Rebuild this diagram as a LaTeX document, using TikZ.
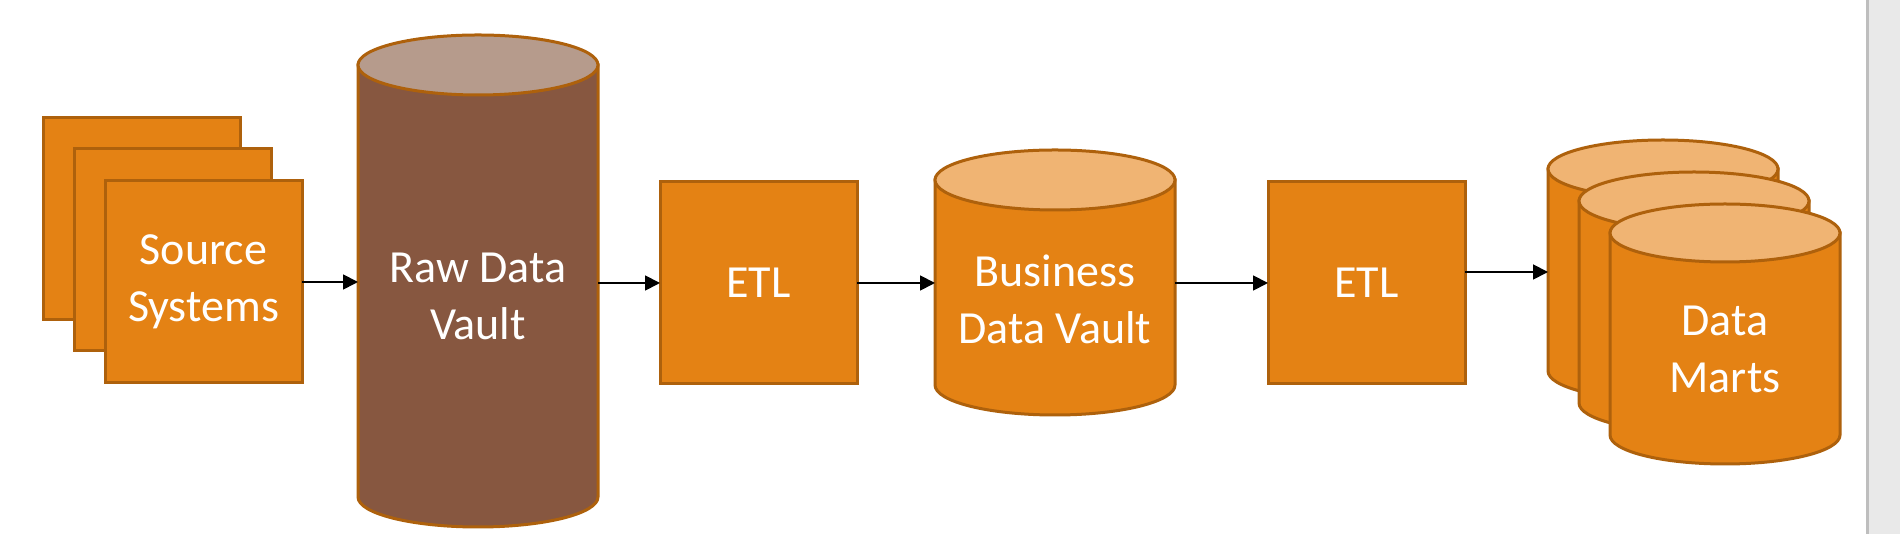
\documentclass[tikz,border=0pt]{standalone}
\usepackage{fontspec}
\setmainfont{Carlito}
\usetikzlibrary{arrows.meta}
\definecolor{boxfill}{HTML}{E48214}
\definecolor{boxline}{HTML}{AE610C}
\definecolor{capfill}{HTML}{F0B473}
\definecolor{rawbody}{HTML}{875740}
\definecolor{rawcap}{HTML}{B69B8C}
\definecolor{barfill}{HTML}{E9E9E9}
\definecolor{barline}{HTML}{BEBEBE}
\tikzset{
  box/.style={draw=boxline,fill=boxfill,line width=3pt,minimum width=197pt,minimum height=202pt,
    inner sep=0pt,outer sep=0pt,text=white,align=center,font=\fontsize{46}{57}\selectfont},
  drum/.style={draw=boxline,line width=3pt},
  tag/.style={text=white,align=center,inner sep=0pt,outer sep=0pt,font=\fontsize{46}{57}\selectfont},
  flow/.style={line width=1.8pt,-{Triangle[length=15pt,width=15pt]}}
}
% #1 body, #2 cap, #3 left x, #4 right x, #5 top centre y, #6 bottom centre y, #7 y radius
\newcommand{\drawdrum}[7]{%
  \pgfmathsetmacro{\drumrx}{((#4)-(#3))/2}
  \draw[drum,fill=#1] (#3,#5) -- (#3,#6) arc[start angle=180,end angle=360,x radius=\drumrx,y radius=#7] -- (#4,#5) -- cycle;
  \draw[drum,fill=#2] ({((#3)+(#4))/2},#5) ellipse[x radius=\drumrx,y radius=#7];
}
\begin{document}
\begin{tikzpicture}[x=1pt,y=1pt]
\useasboundingbox (0,0) rectangle (1900,534);
\fill[white] (0,0) rectangle (1900,534);
% scroll bar
\fill[barfill] (1867,0) rectangle (1900,534);
\draw[barline,line width=3pt] (1867,0) -- (1867,534);

% source systems
\node[box] (srca) at (141.5,315) {};
\node[box] (srcb) at (172.5,284) {};
\node[box] (src) at (203.5,252) {Source\\Systems};

% raw data vault
\drawdrum{rawbody}{rawcap}{358}{598}{469}{37}{30}
\node[tag,minimum width=240pt] (raw) at (478,238) {Raw Data\\Vault};

\node[box] (etla) at (758.5,251) {ETL};

% business data vault
\drawdrum{boxfill}{capfill}{935}{1175}{354}{149}{30}
\node[tag,minimum width=240pt] (bdv) at (1055,235) {Business\\Data Vault};

\node[box] (etlb) at (1366.5,251) {ETL};

% data marts
\foreach \xl/\yt in {1548/365,1579/333,1610/301}
  \drawdrum{boxfill}{capfill}{\xl}{\xl+230}{\yt}{\yt-202}{29};
\node[tag,minimum width=230pt] (marts) at (1725,185) {Data\\Marts};
\coordinate (mart) at (1548,262);

\draw[flow] (src.east) -- (src.east -| raw.west);
\draw[flow] (etla.west -| raw.east) -- (etla.west);
\draw[flow] (etla.east) -- (etla.east -| bdv.west);
\draw[flow] (etlb.west -| bdv.east) -- (etlb.west);
\draw[flow] (etlb.east |- mart) -- (mart);
\end{tikzpicture}
\end{document}
